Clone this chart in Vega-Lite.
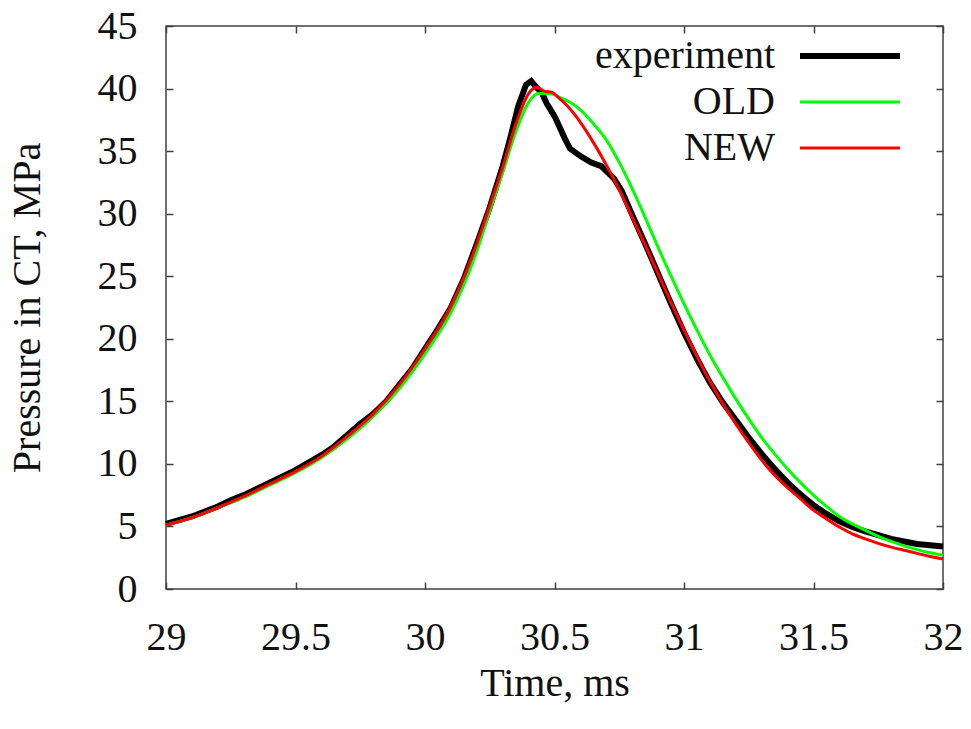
{
  "$schema": "https://vega.github.io/schema/vega-lite/v6.json",
  "autosize": "none",
  "width": 777,
  "height": 563,
  "padding": {"left": 166, "top": 26, "right": 28, "bottom": 140},
  "background": "white",
  "config": {
    "view": {"stroke": "#404040", "strokeWidth": 1.5},
    "font": "Liberation Serif",
    "axis": {"grid": false, "domain": false, "tickColor": "#404040", "tickWidth": 1.5, "tickSize": -7,
      "labelFont": "Liberation Serif", "labelFontSize": 40, "labelColor": "#111",
      "titleFont": "Liberation Serif", "titleFontSize": 40, "titleFontWeight": "normal", "titleColor": "#111"}
  },
  "data": {"values": [
    {"t":29.0,"p":5.2,"s":"experiment"},{"t":29.05,"p":5.5,"s":"experiment"},{"t":29.1,"p":5.8,"s":"experiment"},{"t":29.15,"p":6.2,"s":"experiment"},{"t":29.2,"p":6.6,"s":"experiment"},{"t":29.25,"p":7.1,"s":"experiment"},{"t":29.3,"p":7.5,"s":"experiment"},{"t":29.35,"p":8.0,"s":"experiment"},{"t":29.4,"p":8.5,"s":"experiment"},{"t":29.45,"p":9.0,"s":"experiment"},{"t":29.5,"p":9.5,"s":"experiment"},{"t":29.55,"p":10.1,"s":"experiment"},{"t":29.6,"p":10.7,"s":"experiment"},{"t":29.65,"p":11.4,"s":"experiment"},{"t":29.7,"p":12.3,"s":"experiment"},{"t":29.75,"p":13.2,"s":"experiment"},{"t":29.8,"p":14.0,"s":"experiment"},{"t":29.85,"p":15.0,"s":"experiment"},{"t":29.9,"p":16.3,"s":"experiment"},{"t":29.95,"p":17.6,"s":"experiment"},{"t":30.0,"p":19.2,"s":"experiment"},{"t":30.05,"p":20.8,"s":"experiment"},{"t":30.1,"p":22.5,"s":"experiment"},{"t":30.15,"p":24.8,"s":"experiment"},{"t":30.2,"p":27.6,"s":"experiment"},{"t":30.25,"p":30.5,"s":"experiment"},{"t":30.3,"p":33.8,"s":"experiment"},{"t":30.33,"p":36.1,"s":"experiment"},{"t":30.36,"p":38.6,"s":"experiment"},{"t":30.39,"p":40.3,"s":"experiment"},{"t":30.41,"p":40.6,"s":"experiment"},{"t":30.43,"p":40.1,"s":"experiment"},{"t":30.45,"p":39.7,"s":"experiment"},{"t":30.47,"p":38.8,"s":"experiment"},{"t":30.5,"p":37.8,"s":"experiment"},{"t":30.52,"p":36.9,"s":"experiment"},{"t":30.54,"p":36.0,"s":"experiment"},{"t":30.56,"p":35.2,"s":"experiment"},{"t":30.6,"p":34.6,"s":"experiment"},{"t":30.64,"p":34.1,"s":"experiment"},{"t":30.68,"p":33.8,"s":"experiment"},{"t":30.7,"p":33.4,"s":"experiment"},{"t":30.73,"p":32.8,"s":"experiment"},{"t":30.76,"p":31.8,"s":"experiment"},{"t":30.8,"p":29.9,"s":"experiment"},{"t":30.85,"p":27.6,"s":"experiment"},{"t":30.9,"p":25.2,"s":"experiment"},{"t":30.95,"p":22.8,"s":"experiment"},{"t":31.0,"p":20.5,"s":"experiment"},{"t":31.05,"p":18.4,"s":"experiment"},{"t":31.1,"p":16.5,"s":"experiment"},{"t":31.15,"p":14.9,"s":"experiment"},{"t":31.2,"p":13.5,"s":"experiment"},{"t":31.25,"p":12.1,"s":"experiment"},{"t":31.3,"p":10.8,"s":"experiment"},{"t":31.35,"p":9.6,"s":"experiment"},{"t":31.4,"p":8.5,"s":"experiment"},{"t":31.45,"p":7.55,"s":"experiment"},{"t":31.5,"p":6.7,"s":"experiment"},{"t":31.55,"p":6.0,"s":"experiment"},{"t":31.6,"p":5.4,"s":"experiment"},{"t":31.65,"p":4.95,"s":"experiment"},{"t":31.7,"p":4.6,"s":"experiment"},{"t":31.75,"p":4.3,"s":"experiment"},{"t":31.8,"p":4.0,"s":"experiment"},{"t":31.85,"p":3.8,"s":"experiment"},{"t":31.9,"p":3.6,"s":"experiment"},{"t":31.95,"p":3.5,"s":"experiment"},{"t":32.0,"p":3.4,"s":"experiment"},
    {"t":29.0,"p":5.1,"s":"OLD"},{"t":29.1,"p":5.7,"s":"OLD"},{"t":29.2,"p":6.5,"s":"OLD"},{"t":29.3,"p":7.3,"s":"OLD"},{"t":29.4,"p":8.3,"s":"OLD"},{"t":29.5,"p":9.3,"s":"OLD"},{"t":29.6,"p":10.5,"s":"OLD"},{"t":29.7,"p":12.0,"s":"OLD"},{"t":29.8,"p":13.8,"s":"OLD"},{"t":29.9,"p":16.0,"s":"OLD"},{"t":30.0,"p":18.8,"s":"OLD"},{"t":30.1,"p":22.1,"s":"OLD"},{"t":30.15,"p":24.3,"s":"OLD"},{"t":30.2,"p":27.0,"s":"OLD"},{"t":30.25,"p":30.2,"s":"OLD"},{"t":30.3,"p":33.3,"s":"OLD"},{"t":30.35,"p":36.5,"s":"OLD"},{"t":30.4,"p":38.9,"s":"OLD"},{"t":30.44,"p":39.6,"s":"OLD"},{"t":30.48,"p":39.6,"s":"OLD"},{"t":30.52,"p":39.3,"s":"OLD"},{"t":30.56,"p":38.9,"s":"OLD"},{"t":30.6,"p":38.3,"s":"OLD"},{"t":30.65,"p":37.2,"s":"OLD"},{"t":30.7,"p":35.9,"s":"OLD"},{"t":30.75,"p":34.1,"s":"OLD"},{"t":30.8,"p":32.0,"s":"OLD"},{"t":30.85,"p":29.7,"s":"OLD"},{"t":30.9,"p":27.3,"s":"OLD"},{"t":30.95,"p":25.0,"s":"OLD"},{"t":31.0,"p":22.8,"s":"OLD"},{"t":31.05,"p":20.7,"s":"OLD"},{"t":31.1,"p":18.7,"s":"OLD"},{"t":31.15,"p":16.9,"s":"OLD"},{"t":31.2,"p":15.2,"s":"OLD"},{"t":31.25,"p":13.6,"s":"OLD"},{"t":31.3,"p":12.1,"s":"OLD"},{"t":31.35,"p":10.8,"s":"OLD"},{"t":31.4,"p":9.6,"s":"OLD"},{"t":31.45,"p":8.5,"s":"OLD"},{"t":31.5,"p":7.5,"s":"OLD"},{"t":31.55,"p":6.6,"s":"OLD"},{"t":31.6,"p":5.8,"s":"OLD"},{"t":31.65,"p":5.2,"s":"OLD"},{"t":31.7,"p":4.7,"s":"OLD"},{"t":31.75,"p":4.2,"s":"OLD"},{"t":31.8,"p":3.8,"s":"OLD"},{"t":31.85,"p":3.45,"s":"OLD"},{"t":31.9,"p":3.15,"s":"OLD"},{"t":31.95,"p":2.9,"s":"OLD"},{"t":32.0,"p":2.7,"s":"OLD"},
    {"t":29.0,"p":5.1,"s":"NEW"},{"t":29.1,"p":5.7,"s":"NEW"},{"t":29.2,"p":6.5,"s":"NEW"},{"t":29.3,"p":7.4,"s":"NEW"},{"t":29.4,"p":8.4,"s":"NEW"},{"t":29.5,"p":9.4,"s":"NEW"},{"t":29.6,"p":10.6,"s":"NEW"},{"t":29.7,"p":12.2,"s":"NEW"},{"t":29.8,"p":14.0,"s":"NEW"},{"t":29.9,"p":16.3,"s":"NEW"},{"t":30.0,"p":19.2,"s":"NEW"},{"t":30.1,"p":22.6,"s":"NEW"},{"t":30.15,"p":24.9,"s":"NEW"},{"t":30.2,"p":27.6,"s":"NEW"},{"t":30.25,"p":30.6,"s":"NEW"},{"t":30.3,"p":33.7,"s":"NEW"},{"t":30.35,"p":37.1,"s":"NEW"},{"t":30.4,"p":39.6,"s":"NEW"},{"t":30.43,"p":40.1,"s":"NEW"},{"t":30.46,"p":39.8,"s":"NEW"},{"t":30.49,"p":39.7,"s":"NEW"},{"t":30.52,"p":39.2,"s":"NEW"},{"t":30.55,"p":38.6,"s":"NEW"},{"t":30.6,"p":37.3,"s":"NEW"},{"t":30.65,"p":35.7,"s":"NEW"},{"t":30.7,"p":33.9,"s":"NEW"},{"t":30.75,"p":31.9,"s":"NEW"},{"t":30.8,"p":29.7,"s":"NEW"},{"t":30.85,"p":27.5,"s":"NEW"},{"t":30.9,"p":25.2,"s":"NEW"},{"t":30.95,"p":22.9,"s":"NEW"},{"t":31.0,"p":20.7,"s":"NEW"},{"t":31.05,"p":18.6,"s":"NEW"},{"t":31.1,"p":16.6,"s":"NEW"},{"t":31.15,"p":14.8,"s":"NEW"},{"t":31.2,"p":13.2,"s":"NEW"},{"t":31.25,"p":11.7,"s":"NEW"},{"t":31.3,"p":10.3,"s":"NEW"},{"t":31.35,"p":9.1,"s":"NEW"},{"t":31.4,"p":8.1,"s":"NEW"},{"t":31.45,"p":7.2,"s":"NEW"},{"t":31.5,"p":6.3,"s":"NEW"},{"t":31.55,"p":5.6,"s":"NEW"},{"t":31.6,"p":4.95,"s":"NEW"},{"t":31.65,"p":4.4,"s":"NEW"},{"t":31.7,"p":4.0,"s":"NEW"},{"t":31.75,"p":3.65,"s":"NEW"},{"t":31.8,"p":3.35,"s":"NEW"},{"t":31.85,"p":3.1,"s":"NEW"},{"t":31.9,"p":2.85,"s":"NEW"},{"t":31.95,"p":2.6,"s":"NEW"},{"t":32.0,"p":2.4,"s":"NEW"}
  ]},
  "resolve": {"axis": {"x": "independent", "y": "independent"}},
  "layer": [
    {
      "transform": [{"filter": "datum.s === 'experiment'"}],
      "mark": {"type": "line", "strokeWidth": 6, "strokeJoin": "miter"},
      "encoding": {
        "x": {"field": "t", "type": "quantitative", "scale": {"domain": [29, 32], "nice": false, "zero": false},
          "axis": {"orient": "bottom", "values": [29, 29.5, 30, 30.5, 31, 31.5, 32], "format": "~g", "labelPadding": 35, "title": "Time, ms", "titlePadding": 6, "labelFlush": false}},
        "y": {"field": "p", "type": "quantitative", "scale": {"domain": [0, 45], "nice": false, "zero": false},
          "axis": {"orient": "left", "values": [0,5,10,15,20,25,30,35,40,45], "format": "d", "labelPadding": 36, "title": "Pressure in CT, MPa", "titlePadding": 50, "labelFlush": false}},
        "color": {"field": "s", "type": "nominal",
          "scale": {"domain": ["experiment", "OLD", "NEW"], "range": ["#000000", "#00ff00", "#ff0000"]},
          "legend": {"orient": "none", "legendX": 664, "legendY": 10, "title": null, "symbolType": "stroke", "symbolSize": 10000,
            "symbolStrokeWidth": 3, "labelFont": "Liberation Serif", "labelFontSize": 40, "labelColor": "#111", "labelLimit": 400, "rowPadding": 6,
            "encode": {
              "symbols": {"update": {"strokeWidth": {"signal": "datum.value === 'experiment' ? 6 : 3"}}},
              "labels": {"update": {"align": {"value": "right"}, "x": {"value": -55}}}
            }}
        }
      }
    },
    {
      "transform": [{"filter": "datum.s === 'OLD'"}],
      "mark": {"type": "line", "strokeWidth": 3, "interpolate": "monotone"},
      "encoding": {
        "x": {"field": "t", "type": "quantitative", "axis": {"orient": "top", "values": [29, 29.5, 30, 30.5, 31, 31.5, 32], "labels": false, "title": null}},
        "y": {"field": "p", "type": "quantitative", "axis": {"orient": "right", "values": [0,5,10,15,20,25,30,35,40,45], "labels": false, "title": null}},
        "color": {"field": "s", "type": "nominal"}
      }
    },
    {
      "transform": [{"filter": "datum.s === 'NEW'"}],
      "mark": {"type": "line", "strokeWidth": 3, "interpolate": "monotone"},
      "encoding": {
        "x": {"field": "t", "type": "quantitative", "axis": null},
        "y": {"field": "p", "type": "quantitative", "axis": null},
        "color": {"field": "s", "type": "nominal"}
      }
    }
  ]
}
